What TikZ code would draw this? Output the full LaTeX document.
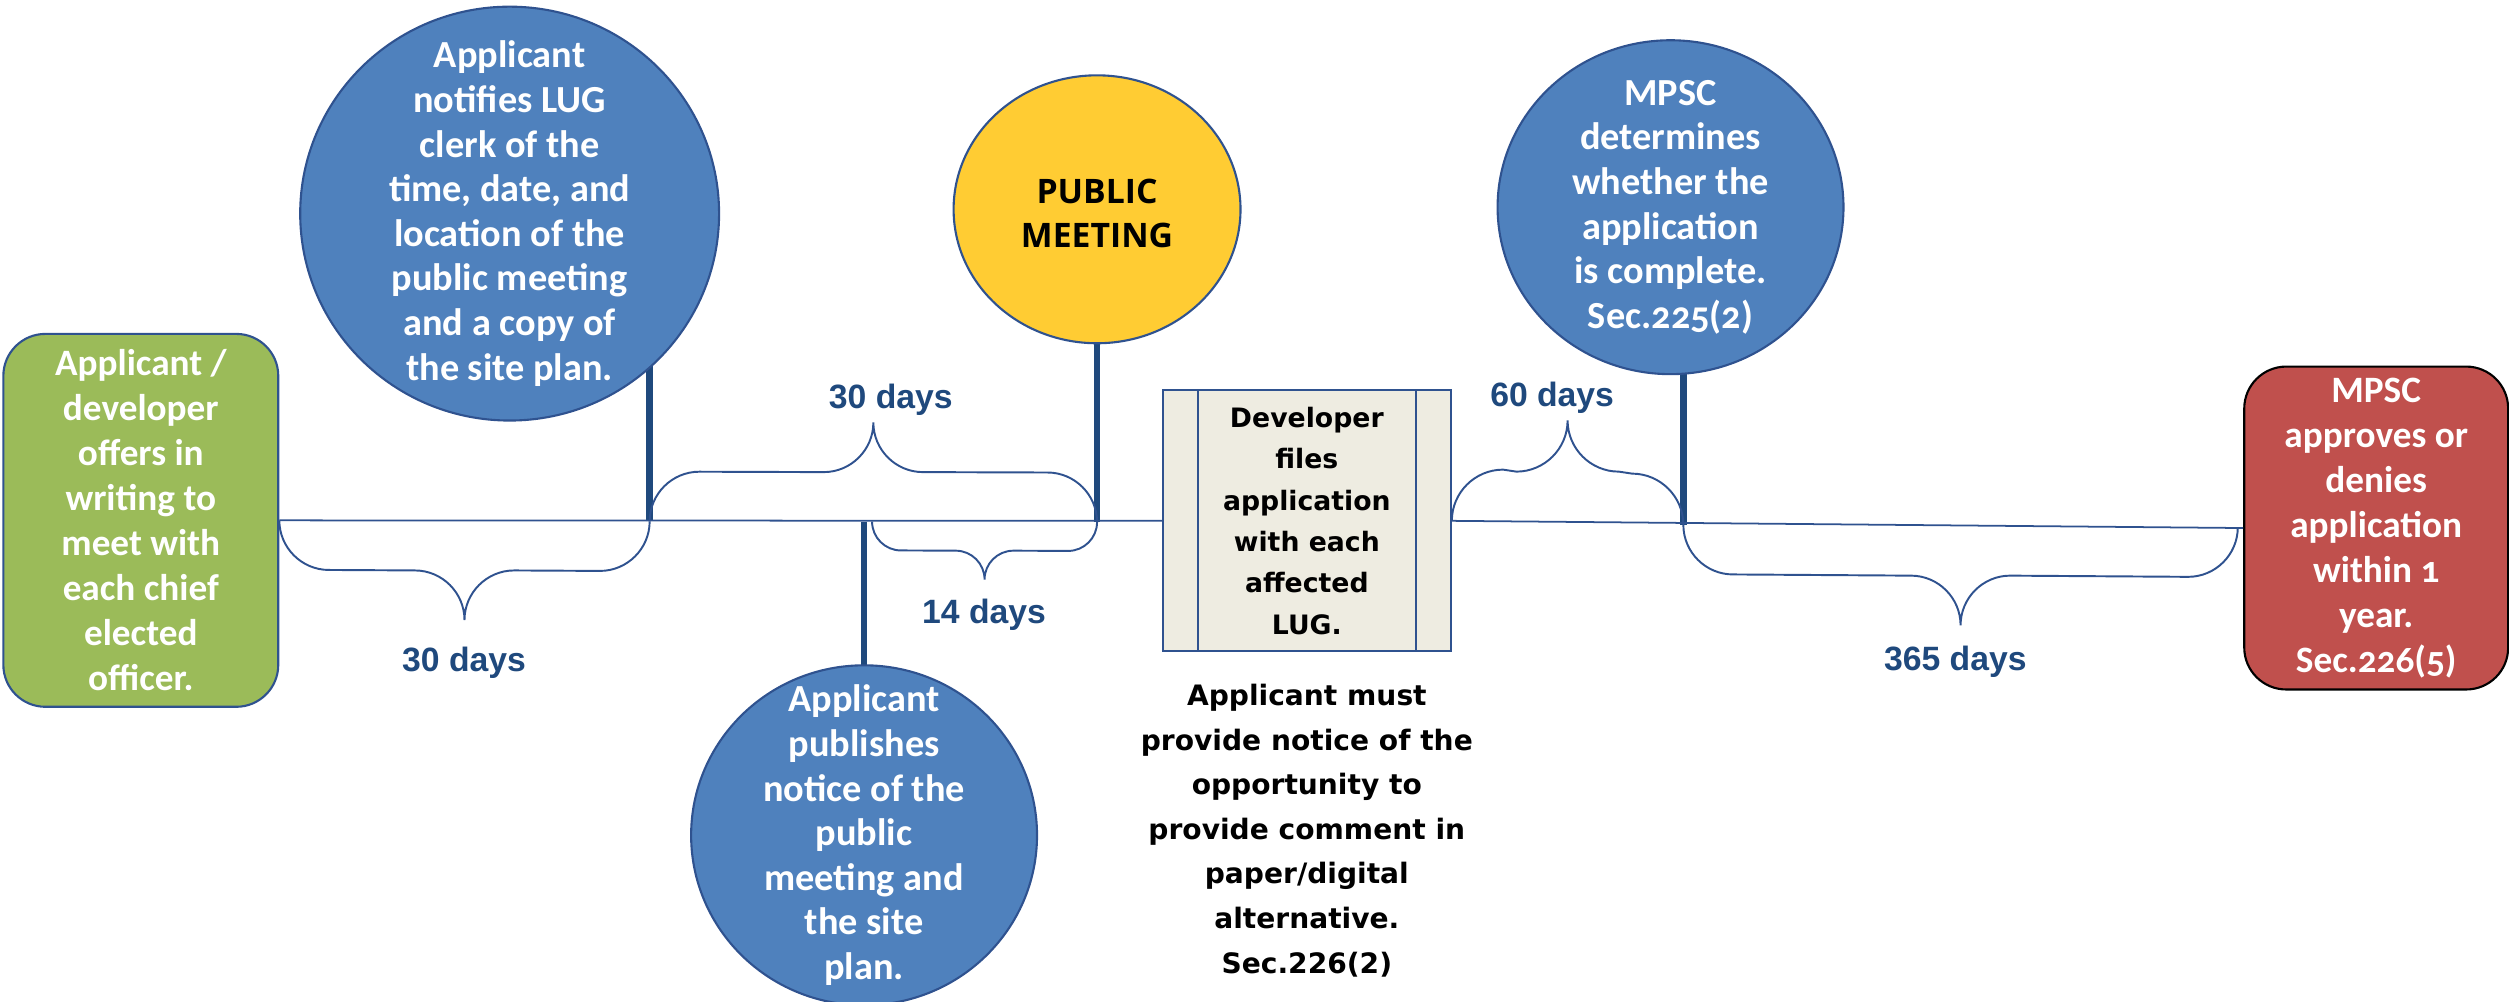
\documentclass[tikz,border=0pt]{standalone}
\usepackage{fontspec}
\setmainfont{Carlito}
\newfontfamily\stepfont{Carlito}[Numbers=OldStyle]
\newfontfamily\filefont{DejaVu Sans}
\newfontfamily\meetfont{Open Sans}
\newfontfamily\daysfont{Liberation Sans}
\usetikzlibrary{positioning,shapes.geometric,calc,backgrounds}
\definecolor{NavyLine}{RGB}{31,73,125}
\definecolor{EdgeBlue}{RGB}{47,82,143}
\definecolor{StepBlue}{RGB}{79,129,189}
\definecolor{StartGreen}{RGB}{155,187,89}
\definecolor{EndRed}{RGB}{192,80,77}
\definecolor{MeetYellow}{RGB}{255,204,51}
\definecolor{FileBeige}{RGB}{238,236,225}
\tikzset{
  event/.style={ellipse,draw=EdgeBlue,fill=StepBlue,line width=0.6pt,inner sep=0pt},
  eventtext/.style={text=white,align=center,inner sep=0pt,
    font=\stepfont\bfseries\fontsize{10.9}{12.7}\selectfont},
  endpoint/.style={rectangle,rounded corners=0.42cm,line width=0.6pt,inner sep=0pt,
    text=white,align=center,font=\stepfont\bfseries\fontsize{10.6}{12.8}\selectfont},
  filing/.style={rectangle,draw=EdgeBlue,fill=FileBeige,line width=0.6pt,inner sep=0pt,
    minimum width=2.88cm,minimum height=2.61cm,align=center,
    font=\filefont\bfseries\fontsize{7.6}{11.8}\selectfont},
  note/.style={align=center,inner sep=0pt,
    font=\filefont\bfseries\fontsize{8}{12.7}\selectfont},
  days/.style={text=NavyLine,inner sep=0pt,anchor=base,
    font=\daysfont\bfseries\fontsize{9.6}{11}\selectfont},
  timeline/.style={EdgeBlue,line width=0.5pt},
  stem/.style={NavyLine,line width=1.9pt},
  bracket/.style={EdgeBlue,line width=0.55pt}
}
% curly bracket between two points on the line; #3 is the half depth (+ below, - above)
\newcommand{\daybrace}[3]{%
  \draw[bracket] (#1)
    .. controls +(0,{0.55*(#3)}) and +({-0.55*abs(#3)},0) .. ($(#1)+({abs(#3)},{#3})$)
    -- ($(#1)!0.5!(#2)+({-abs(#3)},{#3})$)
    .. controls +({0.55*abs(#3)},0) and +(0,{-0.55*(#3)}) .. ($(#1)!0.5!(#2)+(0,{2*(#3)})$)
    .. controls +(0,{-0.55*(#3)}) and +({-0.55*abs(#3)},0) .. ($(#1)!0.5!(#2)+({abs(#3)},{#3})$)
    -- ($(#2)+({-abs(#3)},{#3})$)
    .. controls +({0.55*abs(#3)},0) and +(0,{0.55*(#3)}) .. (#2);}

\begin{document}
\begin{tikzpicture}[x=0.016cm,y=-0.016cm]
\useasboundingbox (0,0) rectangle (1568,626);

% first and last step
\node[endpoint,fill=StartGreen,draw=EdgeBlue,minimum width=2.75cm,minimum height=3.73cm]
  (start) at (88,325.2) {Applicant /\\developer\\offers in\\writing to\\meet with\\each chief\\elected\\officer.};
\node[endpoint,fill=EndRed,draw=black,minimum width=2.64cm,minimum height=3.23cm]
  (decide) at (1485,330) {MPSC\\approves or\\denies\\application\\within 1\\year.\\Sec.226(5)};

% filing box on the line
\node[filing] (filing) at (816.7,325.5) {Developer\\files\\application\\with each\\affected\\LUG.};
\draw[bracket] ($(filing.north west)+(22.5,0)$) -- ($(filing.south west)+(22.5,0)$);
\draw[bracket] ($(filing.north east)+(-22.5,0)$) -- ($(filing.south east)+(-22.5,0)$);
\node[note,below=0.31cm of filing] (notice) {Applicant must\\provide notice of the\\opportunity to\\provide comment in\\paper/digital\\alternative.\\Sec.226(2)};

% the time line
\draw[timeline] (start.east) -- (filing.west);
\draw[timeline] (filing.east) -- (decide.west);

\coordinate (p1) at (406,325.8);
\coordinate (p3) at (540,326);
\coordinate (p2) at (685.6,326.3);
\coordinate (p4) at (1052,328);
\coordinate (q3) at (545,326);
\coordinate (q4) at (1398.5,329.5);

% events hanging off the line
\node[event,minimum width=4.19cm,minimum height=4.14cm,
  label={[eventtext]center:{Applicant\\notifies LUG\\clerk of the\\time, date, and\\location of the\\public meeting\\and a copy of\\the site plan.}}]
  (clerk) at (318.5,133.5) {};
\node[event,fill=MeetYellow,minimum width=2.87cm,minimum height=2.68cm,
  label={[align=center,inner sep=0pt,yshift=-0.04cm,font=\meetfont\bfseries\fontsize{9.6}{12.7}\selectfont]center:{PUBLIC\\MEETING}}]
  (meet) at (685.6,130.8) {};
\node[event,minimum width=3.46cm,minimum height=3.4cm,
  label={[eventtext]center:{Applicant\\publishes\\notice of the\\public\\meeting and\\the site\\plan.}}]
  (publish) at (540,522) {};
\node[event,minimum width=3.46cm,minimum height=3.34cm,
  label={[eventtext]center:{MPSC\\determines\\whether the\\application\\is complete.\\Sec.225(2)}}]
  (check) at (1044,129.5) {};

\begin{scope}[on background layer]
  \draw[stem] (p1) -- (p1 |- clerk.center);
  \draw[stem] (p2) -- (p2 |- meet.center);
  \draw[stem] (p3) -- (p3 |- publish.center);
  \draw[stem] (p4) -- (p4 |- check.center);
\end{scope}

% waiting periods
\daybrace{start.east}{p1}{31}
\daybrace{p1}{p2}{-31}
\daybrace{q3}{p2}{18}
\daybrace{filing.east}{p4}{-32}
\daybrace{p4}{q4}{31}

\node[days] (wait1) at (290,419.8) {30 days};
\node[days] (wait2) at (556.7,255) {30 days};
\node[days] (wait3) at (615,389.5) {14 days};
\node[days] (wait4) at (970,254) {60 days};
\node[days] (wait5) at (1222,418.8) {365 days};
\end{tikzpicture}
\end{document}
